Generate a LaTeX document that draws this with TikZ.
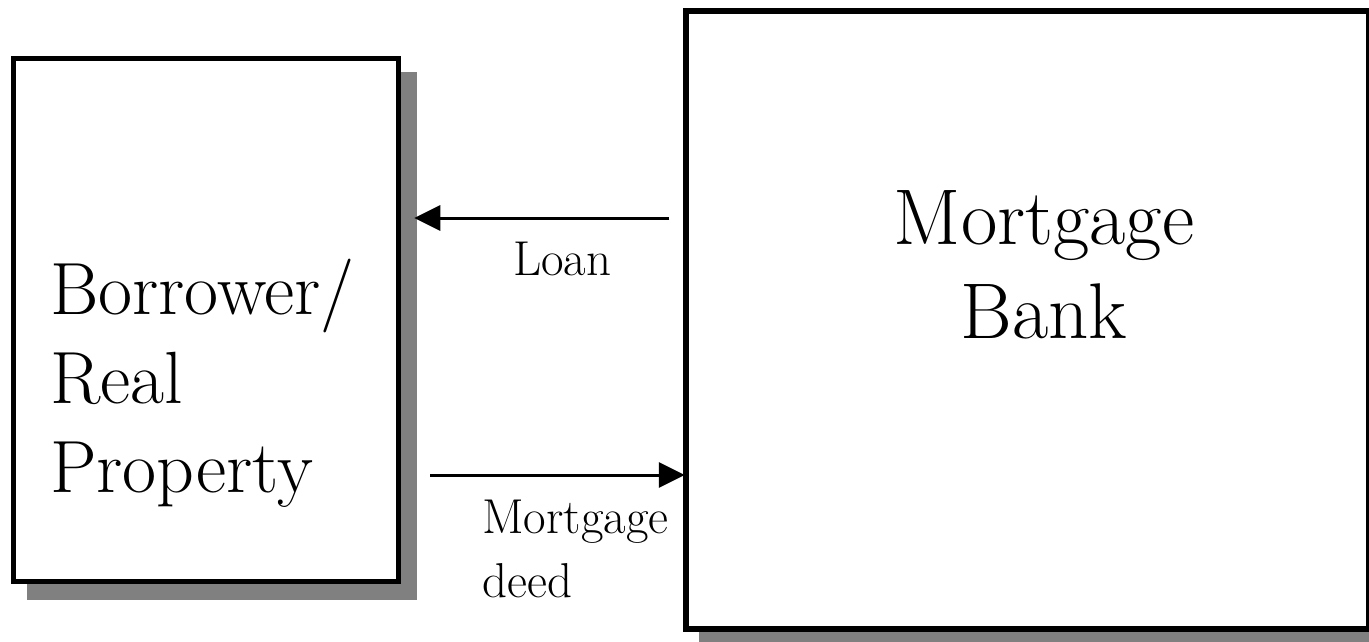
\documentclass[tikz,border=0pt]{standalone}
\usepackage{fontspec}
\usetikzlibrary{arrows.meta,calc}
\definecolor{shadowgray}{HTML}{808080}
\tikzset{
  boxshape/.style={draw=black, fill=white, line width=5.5pt, rectangle, inner sep=0pt},
  shadowfill/.style={fill=shadowgray},
  arr/.style={line width=3pt, -{Triangle[length=26pt,width=25pt]}},
  bigtext/.style={inner sep=0pt, anchor=base west, align=left},
  smalltext/.style={inner sep=0pt, anchor=base west, align=left, font=\fontsize{49}{64}\selectfont},
}
\begin{document}
\begin{tikzpicture}[x=1pt,y=-1pt]
\useasboundingbox (0,0) rectangle (1369,642);
\clip (0,0) rectangle (1369,642);
% shadows
\path node[boxshape, draw=none, fill=none, minimum width=385pt, minimum height=523pt] (borrower) at (206,320) {};
\path node[boxshape, draw=none, fill=none, minimum width=683pt, minimum height=618pt] (bank) at (1027.5,320) {};
\fill[shadowfill] ($(borrower.north west)+(16,16)$) rectangle ($(borrower.south east)+(16,16)$);
\fill[shadowfill] ($(bank.north west)+(16,16)$) rectangle ($(bank.south east)+(16,16)$);
% boxes
\node[boxshape, minimum width=385pt, minimum height=523pt] (borrowerbox) at (206,320) {};
\node[boxshape, minimum width=683pt, minimum height=618pt] (bankbox) at (1027.5,320) {};
% texts (anchor base = baseline of last line)
\node[bigtext, font=\fontsize{74}{89}\selectfont] (btext) at (50,492) {Borrower/\\Real\\Property};
\node[inner sep=0pt, anchor=base, align=center, font=\fontsize{79}{94}\selectfont] (mtext) at (1044,338) {Mortgage\\Bank};
\node[smalltext] (loan) at (513,275) {Loan};
\node[smalltext] (deed) at (482,597) {Mortgage\\deed};
% connectors
\coordinate (loanS) at ($(bankbox.west|-0,218)+(-14,0)$);
\coordinate (loanE) at ($(borrowerbox.east|-0,218)+(13,0)$);
\draw[arr] (loanS) -- (loanE);
\coordinate (deedS) at ($(borrowerbox.east|-0,475)+(29,0)$);
\coordinate (deedE) at ($(bankbox.west|-0,475)+(1.5,0)$);
\draw[arr] (deedS) -- (deedE);
\end{tikzpicture}
\end{document}
